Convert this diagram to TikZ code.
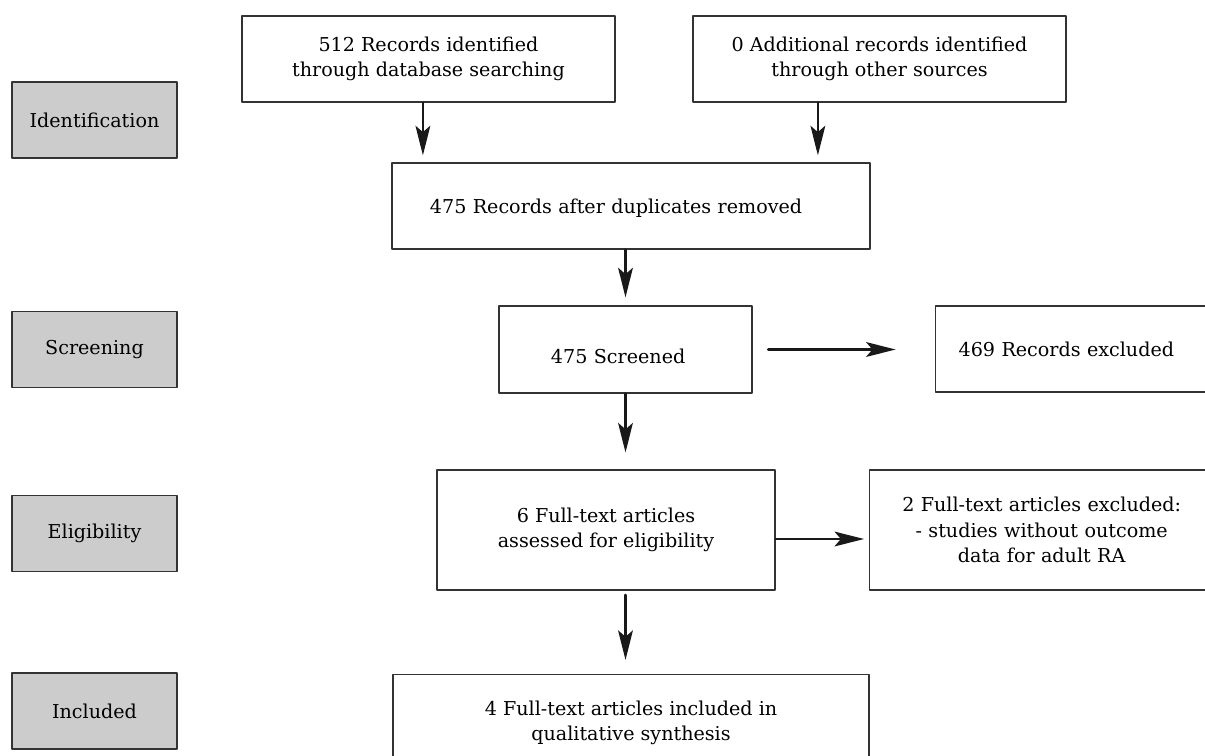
\documentclass[tikz,border=0pt]{standalone}
\usepackage{fontspec}
\setmainfont{DejaVu Serif}
\usetikzlibrary{arrows.meta}

\begin{document}
\begin{tikzpicture}[x=0.025cm, y=-0.025cm, line cap=round, line join=round,
		>={Stealth[length=21pt, width=10.5pt, inset=4.5pt]},
		box/.style={draw=black!80, line width=0.9pt, fill=white, align=center,
			inner sep=0pt, font=\fontsize{13.6}{18}\selectfont},
		phase/.style={box, fill=black!20, minimum width=4.125cm, minimum height=1.9cm},
		arr/.style={->, line width=1.6pt, black!90}]
		
		\useasboundingbox (0,0) rectangle (1205,756);
		
		% --- phase labels on the left ---
		\node[phase] (ident) at (94.5,120) {Identification};
		\node[phase] (screen) at (94.5,349.5) {Screening};
		\node[phase] (elig) at (94.5,533.5) {Eligibility};
		\node[phase] (incl) at (94.5,711) {Included};
		
		% --- identification ---
		\node[box, minimum width=9.325cm, minimum height=2.15cm] (db) at (428.5,59)
		{512 Records identified\\through database searching};
		\node[box, minimum width=9.325cm, minimum height=2.15cm] (other) at (879.5,59)
		{0 Additional records identified\\through other sources};
		\node[box, minimum height=2.15cm, align=left, text width=10.05cm, inner xsep=0.95cm,
		text height=0.45cm, text depth=0.1cm] (dedup) at (631,206)
		{475 Records after duplicates removed};
		
		% --- screening ---
		\node[box, minimum height=2.175cm, align=left, text width=3.725cm, inner xsep=1.3cm,
		text height=0.75cm, text depth=0.07cm] (screened) at (625.5,349.5)
		{475 Screened};
		\node[box, anchor=west, minimum height=2.15cm, text width=6.5cm, align=left,
		inner xsep=0.575cm] (excl) at (935,349) {469 Records excluded};
		
		% --- eligibility ---
		\node[box, minimum width=8.45cm, minimum height=3cm] (full) at (606,530)
		{6 Full-text articles\\assessed for eligibility};
		\node[box, anchor=west, minimum height=3cm, text width=8.2cm, inner xsep=0.2cm]
		(fullex) at (869,530)
		{2 Full-text articles excluded:\\- studies without outcome\\data for adult RA};
		
		% --- included ---
		\node[box, anchor=north, minimum width=11.9cm, minimum height=2.4cm] (final) at (631,674)
		{4 Full-text articles included in\\qualitative synthesis};
		
		% --- flow arrows ---
		\draw[arr, shorten >=5pt] ([xshift=-0.14cm]db.south) -- ([xshift=-0.14cm]db.south |- dedup.north);
		\draw[arr, shorten >=5pt] ([xshift=-1.54cm]other.south) -- ([xshift=-1.54cm]other.south |- dedup.north);
		\draw[arr, shorten >=5.7pt] (screened.north |- dedup.south) -- (screened.north);
		\draw[arr, shorten >=12pt] (screened.south) -- (screened.south |- full.north);
		\draw[arr, shorten <=3pt, shorten >=10pt] (screened.south |- full.south) -- (screened.south |- final.north);
		
		% exclusions to the right
		\draw[arr, shorten <=11pt, shorten >=28pt] (screened.east) -- (screened.east -| excl.west);
		\draw[arr, shorten >=3.5pt] ([yshift=-0.225cm]full.east) -- ([yshift=-0.225cm]full.east -| fullex.west);
		
	\end{tikzpicture}
\end{document}
